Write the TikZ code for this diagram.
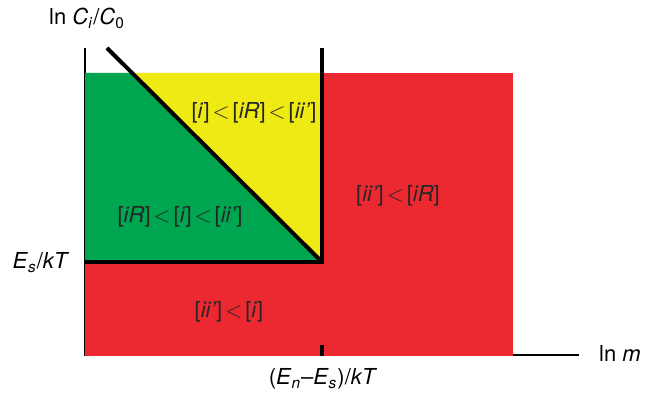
\documentclass[tikz,border=0pt]{standalone}
\usepackage{fontspec}
\setmainfont{TeX Gyre Heros}
\usepackage{tikz}

\definecolor{zonegreen}{RGB}{0,165,80}
\definecolor{zoneyellow}{RGB}{240,234,20}
\definecolor{zonered}{RGB}{236,41,49}

\newcommand{\lessrel}{\hspace{1.5pt}$<$\hspace{1.5pt}}

\tikzset{
    axis/.style={black,line width=0.7pt},
    boundary/.style={black,line width=2pt,line join=miter},
    zonelabel/.style={anchor=base,text=black!85},
}

\begin{document}
\begin{tikzpicture}[x=0.5pt,y=-0.5pt,font=\fontsize{11}{13}\selectfont]
    \useasboundingbox (0,0) rectangle (655,395);
    % Axes
    \draw[axis] (85,48) -- (85,355) -- (579,355);
    % Coloured zones
    \fill[zonered] (85,73) rectangle (513,356);
    \fill[zonegreen] (85,73) -- (131,73) -- (322,262) -- (85,262) -- cycle;
    \fill[zoneyellow] (131,73) -- (322,73) -- (322,262) -- cycle;
    % Zone boundaries
    \draw[boundary] (322,48) -- (322,262) -- (85,262);
    \draw[boundary] (107,48) -- (322,262);
    \draw[boundary] (322,345) -- (322,356);
    % Axis labels
    \node[anchor=base] (ylabel) at (87,25) {ln \textit{C}\textsubscript{\textit{i}}/\textit{C}\textsubscript{0}};
    \node[anchor=base] (xlabel) at (620,362) {ln \textit{m}};
    \node[anchor=base] (eslabel) at (41,269) {\textit{E}\textsubscript{\textit{s}}/\textit{kT}};
    \node[anchor=base] (enlabel) at (323,385) {(\textit{E}\textsubscript{\textit{n}}–\textit{E}\textsubscript{\textit{s}})/\textit{kT}};
    % Zone labels
    \node[zonelabel] (yellowzone) at (254,119) {[\textit{i}]\lessrel[\textit{iR}]\lessrel[\textit{ii’}]};
    \node[zonelabel] (greenzone) at (180,223) {[\textit{iR}]\lessrel[\textit{i}]\lessrel[\textit{ii’}]};
    \node[zonelabel] (redzone) at (398,202) {[\textit{ii’}]\lessrel[\textit{iR}]};
    \node[zonelabel] (lowzone) at (229,318) {[\textit{ii’}]\lessrel[\textit{i}]};
\end{tikzpicture}
\end{document}
